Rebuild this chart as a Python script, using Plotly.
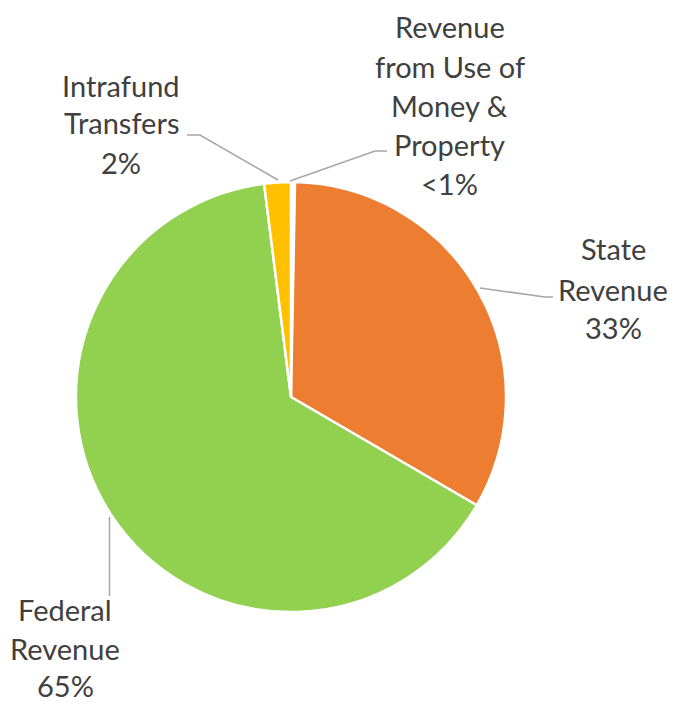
import plotly.graph_objects as go

# ---- data ----
categories = ["Revenue from Use of Money & Property", "State Revenue",
              "Federal Revenue", "Intrafund Transfers"]
label_lines = [["Revenue", "from Use of", "Money &", "Property"],
               ["State", "Revenue"],
               ["Federal", "Revenue"],
               ["Intrafund", "Transfers"]]
values = [0.3, 33.1, 64.6, 2.0]
colors = ["#FFFFFF", "#ED7D31", "#92D050", "#FFC000"]

W, H = 673, 704

def px(x):
    return x / W

def py(y):
    return 1 - y / H

total = sum(values)
pct_text = []
for v in values:
    p = v / total * 100
    pct_text.append("<1%" if p < 1 else f"{round(p):d}%")

fig = go.Figure(go.Pie(
    labels=categories,
    values=values,
    sort=False,
    direction="clockwise",
    rotation=0,
    marker=dict(colors=colors, line=dict(color="white", width=2.5)),
    textinfo="none",
    hoverinfo="label+percent",
    showlegend=False,
    domain=dict(x=[px(76), px(506)], y=[py(612), py(182)]),
))

# label layout (pixel positions of the line centres)
label_pos = [
    (450, [27, 66, 105, 144, 183]),
    (613, [248, 289, 327]),
    (65, [609, 648, 685]),
    (121, [85, 123, 162]),
]

annotations = []
for i, (cx, ys) in enumerate(label_pos):
    lines = label_lines[i] + [pct_text[i]]
    for line, y in zip(lines, ys):
        annotations.append(dict(
            x=px(cx), y=py(y), xref="paper", yref="paper",
            text=line, showarrow=False, xanchor="center", yanchor="middle",
            font=dict(family="Lato", size=29, color="#404040"),
        ))

leaders = [
    [(290, 181), (375, 151), (387, 151)],
    [(480, 288), (545, 297), (553, 297)],
    [(109.5, 517), (109.5, 596)],
    [(278, 180), (200, 135), (187, 135)],
]
shapes = []
for pts in leaders:
    path = "M " + " L ".join(f"{px(x)},{py(y)}" for x, y in pts)
    shapes.append(dict(type="path", path=path, xref="paper", yref="paper",
                       line=dict(color="#A6A6A6", width=1.5)))

fig.update_layout(
    width=W, height=H,
    margin=dict(l=0, r=0, t=0, b=0),
    paper_bgcolor="white", plot_bgcolor="white",
    annotations=annotations,
    shapes=shapes,
)

fig.write_html("out.html", config={"displayModeBar": False},
               post_script="document.body.style.margin='0';")
